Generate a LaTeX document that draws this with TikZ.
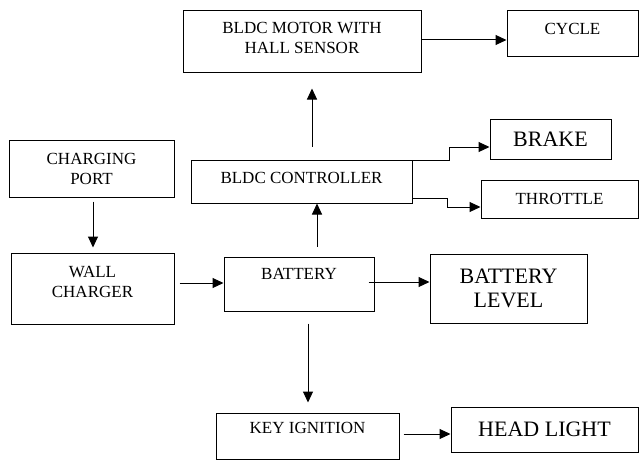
\documentclass[tikz,border=0pt]{standalone}
\usepackage{fontspec}
\setmainfont{Liberation Serif}
\usetikzlibrary{arrows.meta}
\begin{document}
\begin{tikzpicture}[x=1pt,y=-1pt,blk/.style={draw,line width=1pt,inner sep=0pt,align=center,font=\fontsize{17}{20}\selectfont},big/.style={font=\fontsize{22}{24}\selectfont},arr/.style={-{Triangle[length=11pt,width=10pt]},line width=1pt}]
\useasboundingbox (0,0) rectangle (639,460);
\node[blk,minimum width=238pt,minimum height=61pt,text depth=7pt] (motor) at (302,41.5) {BLDC MOTOR WITH\\HALL SENSOR};
\node[blk,minimum width=131pt,minimum height=46pt,text depth=10pt] (cycle) at (572.5,34) {CYCLE};
\node[blk,minimum width=165pt,minimum height=57pt] (port) at (91.5,168.5) {CHARGING\\PORT};
\node[blk,minimum width=221pt,minimum height=43pt,text depth=7pt] (ctrl) at (301.5,181.5) {BLDC CONTROLLER};
\node[blk,big,minimum width=121pt,minimum height=40pt] (brake) at (550.5,139) {BRAKE};
\node[blk,minimum width=157pt,minimum height=38pt] (throttle) at (559.5,199) {THROTTLE};
\node[blk,minimum width=163pt,minimum height=71pt,text depth=13pt] (wall) at (92.5,288.5) {WALL\\CHARGER};
\node[blk,minimum width=150pt,minimum height=54pt,text depth=20pt] (battery) at (299,284) {BATTERY};
\node[blk,big,minimum width=157pt,minimum height=69pt] (level) at (508.5,288.5) {BATTERY\\LEVEL};
\node[blk,minimum width=183pt,minimum height=46pt,text depth=16pt] (key) at (307.5,436) {KEY IGNITION};
\node[blk,big,minimum width=187pt,minimum height=45pt] (head) at (544.5,429.5) {HEAD LIGHT};
% straight links
\draw[arr] ([yshift=1.5pt]motor.east) -- ([yshift=1.5pt]motor.east -| cycle.west);
\draw[arr,shorten <=13pt,shorten >=16pt] ([xshift=10.5pt]ctrl.north) -- ([xshift=10.5pt]ctrl.north |- motor.south);
\draw[arr,shorten <=4pt,shorten >=5pt] ([xshift=1.5pt]port.south) -- ([xshift=1.5pt]port.south |- wall.north);
\draw[arr,shorten <=5pt] ([yshift=5.5pt]wall.east) -- ([yshift=5.5pt]wall.east -| battery.west);
\draw[arr,shorten <=10pt] ([xshift=18pt]battery.north) -- ([xshift=18pt]battery.north |- ctrl.south);
\draw[arr] ([xshift=-6pt,yshift=2pt]battery.east) -- ([yshift=2pt]battery.east -| level.west);
\draw[arr,shorten <=12pt,shorten >=10pt] ([xshift=9pt]battery.south) -- ([xshift=9pt]battery.south |- key.north);
\draw[arr,shorten <=4pt] ([yshift=2pt]key.east) -- ([yshift=2pt]key.east -| head.west);
% stepped links
\draw[arr] ([yshift=-1pt]ctrl.north east) -- ++(37,0) |- ([yshift=-8pt]brake.west);
\draw[arr] ([yshift=5pt]ctrl.south east) -- ++(35,0) |- ([yshift=-8pt]throttle.west);
\end{tikzpicture}
\end{document}
